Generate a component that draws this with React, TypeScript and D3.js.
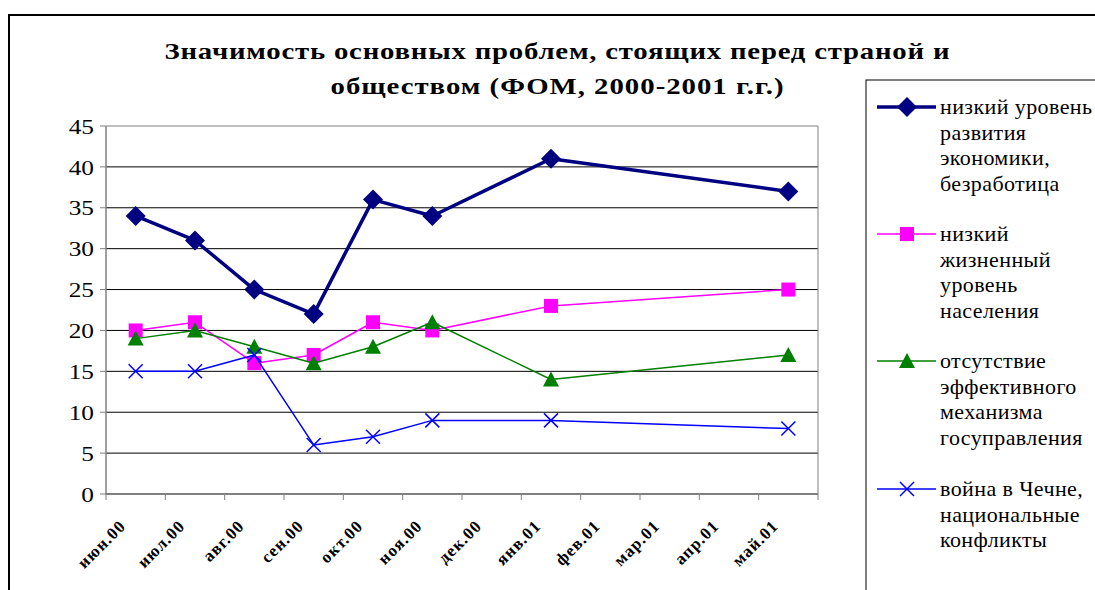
import * as d3 from 'd3'
import React from 'react'

const months = ['июн.00', 'июл.00', 'авг.00', 'сен.00', 'окт.00', 'ноя.00', 'дек.00', 'янв.01', 'фев.01', 'мар.01', 'апр.01', 'май.01']
const economy = [34, 31, 25, 22, 36, 34, null, 41, null, null, null, 37]
const living = [20, 21, 16, 17, 21, 20, null, 23, null, null, null, 25]
const government = [19, 20, 18, 16, 18, 21, null, 14, null, null, null, 17]
const war = [15, 15, 17, 6, 7, 9, null, 9, null, null, null, 8]
const yTicks = [0, 5, 10, 15, 20, 25, 30, 35, 40, 45]
const titleLines = ['Значимость основных проблем, стоящих перед страной и', 'обществом (ФОМ, 2000-2001 г.г.)']

const series = [
  { values: economy, color: '#000080', width: 3.5, marker: 'diamond', label: ['низкий уровень', 'развития', 'экономики,', 'безработица'] },
  { values: living, color: '#ff00ff', width: 1.5, marker: 'square', label: ['низкий', 'жизненный', 'уровень', 'населения'] },
  { values: government, color: '#008000', width: 1.5, marker: 'triangle', label: ['отсутствие', 'эффективного', 'механизма', 'госуправления'] },
  { values: war, color: '#0000ff', width: 1.5, marker: 'cross', label: ['война в Чечне,', 'национальные', 'конфликты'] },
]

const serif = { fontFamily: 'Liberation Serif' }

const Marker = ({ type, x, y, color }: { type: string, x: number, y: number, color: string }) => {
  if (type === 'diamond') {
    return <path d={`M${x},${y - 10}L${x + 10},${y}L${x},${y + 10}L${x - 10},${y}Z`} fill={color} />
  }
  if (type === 'square') {
    return <rect x={x - 7} y={y - 7} width={14} height={14} fill={color} />
  }
  if (type === 'triangle') {
    return <path d={`M${x},${y - 8}L${x + 8},${y + 7}L${x - 8},${y + 7}Z`} fill={color} />
  }
  return (
    <g stroke={color} strokeWidth={1.5}>
      <line x1={x - 7} y1={y - 7} x2={x + 7} y2={y + 7} />
      <line x1={x - 7} y1={y + 7} x2={x + 7} y2={y - 7} />
    </g>
  )
}

const App = () => {
  const left = 106, right = 818, top = 126, bottom = 494
  const xScale = d3.scaleBand().domain(months).range([left, right])
  const yScale = d3.scaleLinear().domain([0, 45]).range([bottom, top])
  const cx = (m: string) => (xScale(m) as number) + xScale.bandwidth() / 2

  const line = d3.line<{ m: string, v: number }>()
    .x(d => cx(d.m))
    .y(d => yScale(d.v))

  return (
    <svg width={1095} height={590} style={{ position: 'absolute', left: 0, top: 0 }}>
      <rect x={0} y={0} width={1095} height={590} fill='white' />
      {/* chart frame */}
      <path d='M9,600V15H1100' fill='none' stroke='black' strokeWidth={2} />
      {titleLines.map((t, i) => (
        <text key={i} transform={`translate(557,${59 + i * 35}) scale(1.2,1)`} textAnchor='middle' fontSize={24} fontWeight='bold' style={serif}
          textLength={(i === 0 ? 785 : 453) / 1.2} lengthAdjust='spacing'>{t}</text>
      ))}
      {/* grid */}
      {yTicks.map(t => (
        <g key={t}>
          <line x1={left} x2={right} y1={yScale(t)} y2={yScale(t)} stroke={t === 45 ? '#808080' : 'black'} strokeWidth={1} />
          <line x1={left - 6} x2={left} y1={yScale(t)} y2={yScale(t)} stroke='#808080' />
          <text transform={`translate(94,${yScale(t)}) scale(1.15,1)`} dy='0.35em' textAnchor='end' fontSize={22} style={serif}>{t}</text>
        </g>
      ))}
      <line x1={right} x2={right} y1={top} y2={bottom} stroke='#808080' />
      <line x1={left} x2={left} y1={top} y2={bottom + 1} stroke='#808080' strokeWidth={1.5} />
      <line x1={left} x2={right} y1={bottom} y2={bottom} stroke='#808080' strokeWidth={1.5} />
      {months.concat(['']).map((m, i) => {
        const x = left + i * xScale.bandwidth()
        return <line key={i} x1={x} x2={x} y1={bottom} y2={bottom + 6} stroke='#808080' />
      })}
      {months.map(m => (
        <text key={m} transform={`translate(${cx(m) - 9},${bottom + 33}) rotate(-45)`} textAnchor='end' fontSize={17} fontWeight='bold' letterSpacing={1} style={serif}>{m}</text>
      ))}
      {/* series */}
      {series.map((s, si) => {
        const pts = months.map((m, i) => ({ m, v: s.values[i] as number })).filter(d => d.v !== null)
        return (
          <g key={si}>
            <path d={line(pts) || ''} fill='none' stroke={s.color} strokeWidth={s.width} strokeLinejoin='round' />
            {pts.map(d => <Marker key={d.m} type={s.marker} x={cx(d.m)} y={yScale(d.v)} color={s.color} />)}
          </g>
        )
      })}
      {/* legend */}
      <rect x={866} y={80} width={300} height={560} fill='white' stroke='black' strokeWidth={1} />
      {series.map((s, si) => {
        const y0 = [107, 234, 361, 489][si]
        return (
          <g key={si}>
            <line x1={877} x2={936} y1={y0} y2={y0} stroke={s.color} strokeWidth={s.width} />
            <Marker type={s.marker} x={907} y={y0} color={s.color} />
            {s.label.map((l, li) => (
              <text key={li} x={940} y={y0 + li * 25.5} dy='0.33em' fontSize={22} letterSpacing={0.4} style={serif}>{l}</text>
            ))}
          </g>
        )
      })}
    </svg>
  )
}

export default App
